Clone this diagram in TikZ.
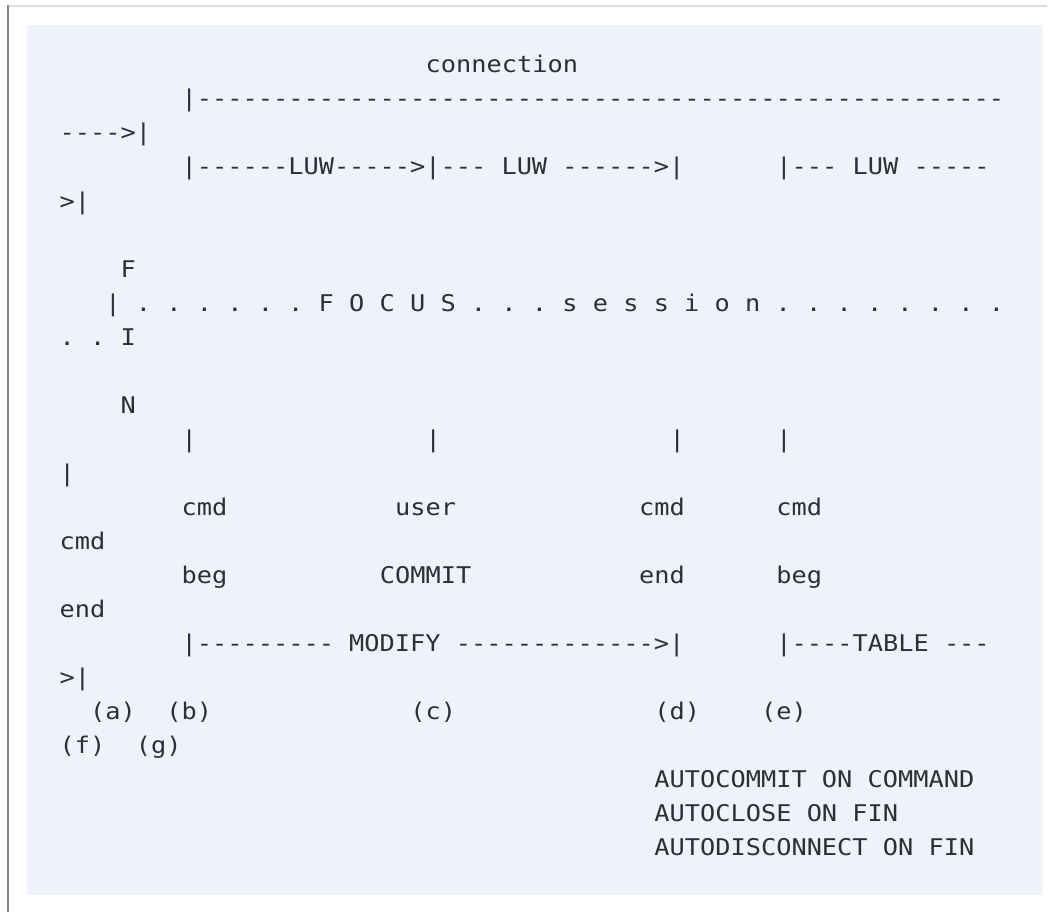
\documentclass[tikz,border=0pt]{standalone}
\usepackage{fontspec}
\setmonofont[FakeStretch=1.1]{DejaVu Sans Mono}
\usepackage{tikz}

\definecolor{codebg}{HTML}{EEF3FB}
\definecolor{codetext}{HTML}{2E2F32}
\definecolor{ruletop}{HTML}{DCDCDC}
\definecolor{ruleleft}{HTML}{858585}

% column / row of the listing grid
\newcommand{\cx}[1]{59.5+#1*15.25}
\newcommand{\ry}[1]{39+#1*34}

\begin{document}
\begin{tikzpicture}[x=1pt,y=-1pt,
  codeline/.style={anchor=base west,inner sep=0pt,text=codetext,
    font=\ttfamily\fontsize{23}{34}\selectfont}]
\useasboundingbox (0,0) rectangle (1051,912);
\fill[codebg] (27,25) rectangle (1043,895);
\draw[ruletop,line width=2pt] (7,6) -- (1047,6);
\draw[ruleleft,line width=2pt] (7.5,5) -- (7.5,912);
% connection and LUWs
\node[codeline] (conn) at ({\cx{24}},{\ry{1}}) {connection};
\node[codeline] (connbar) at ({\cx{8}},{\ry{2}}) {|-----------------------------------------------------};
\node[codeline] (connend) at ({\cx{0}},{\ry{3}}) {---->|};
\node[codeline] (luw) at ({\cx{8}},{\ry{4}}) {|------LUW----->|--- LUW ------>|};
\node[codeline] (luwlast) at ({\cx{47}},{\ry{4}}) {|--- LUW -----};
\node[codeline] (luwend) at ({\cx{0}},{\ry{5}}) {>|};
% FOCUS session and FIN
\node[codeline] (finF) at ({\cx{4}},{\ry{7}}) {F};
\node[codeline] (focus) at ({\cx{3}},{\ry{8}}) {| . . . . . . F O C U S . . . s e s s i o n . . . . . . . .};
\node[codeline] (focusend) at ({\cx{0}},{\ry{9}}) {. . I};
\node[codeline] (finN) at ({\cx{4}},{\ry{11}}) {N};
% event marks
\node[codeline] (bara) at ({\cx{8}},{\ry{12}}) {|};
\node[codeline] (barb) at ({\cx{24}},{\ry{12}}) {|};
\node[codeline] (barc) at ({\cx{40}},{\ry{12}}) {|};
\node[codeline] (bard) at ({\cx{47}},{\ry{12}}) {|};
\node[codeline] (bare) at ({\cx{0}},{\ry{13}}) {|};
\node[codeline] (cmda) at ({\cx{8}},{\ry{14}}) {cmd};
\node[codeline] (usera) at ({\cx{22}},{\ry{14}}) {user};
\node[codeline] (cmdb) at ({\cx{38}},{\ry{14}}) {cmd};
\node[codeline] (cmdc) at ({\cx{47}},{\ry{14}}) {cmd};
\node[codeline] (cmdd) at ({\cx{0}},{\ry{15}}) {cmd};
\node[codeline] (bega) at ({\cx{8}},{\ry{16}}) {beg};
\node[codeline] (commit) at ({\cx{21}},{\ry{16}}) {COMMIT};
\node[codeline] (enda) at ({\cx{38}},{\ry{16}}) {end};
\node[codeline] (begb) at ({\cx{47}},{\ry{16}}) {beg};
\node[codeline] (endb) at ({\cx{0}},{\ry{17}}) {end};
% MODIFY and TABLE spans
\node[codeline] (modify) at ({\cx{8}},{\ry{18}}) {|--------- MODIFY ------------->|};
\node[codeline] (table) at ({\cx{47}},{\ry{18}}) {|----TABLE ---};
\node[codeline] (tableend) at ({\cx{0}},{\ry{19}}) {>|};
% point letters
\node[codeline] (pa) at ({\cx{2}},{\ry{20}}) {(a)};
\node[codeline] (pb) at ({\cx{7}},{\ry{20}}) {(b)};
\node[codeline] (pc) at ({\cx{23}},{\ry{20}}) {(c)};
\node[codeline] (pd) at ({\cx{39}},{\ry{20}}) {(d)};
\node[codeline] (pe) at ({\cx{46}},{\ry{20}}) {(e)};
\node[codeline] (pf) at ({\cx{0}},{\ry{21}}) {(f)};
\node[codeline] (pg) at ({\cx{5}},{\ry{21}}) {(g)};
% settings
\node[codeline] (autocommit) at ({\cx{39}},{\ry{22}}) {AUTOCOMMIT ON COMMAND};
\node[codeline] (autoclose) at ({\cx{39}},{\ry{23}}) {AUTOCLOSE ON FIN};
\node[codeline] (autodisc) at ({\cx{39}},{\ry{24}}) {AUTODISCONNECT ON FIN};
\end{tikzpicture}
\end{document}
